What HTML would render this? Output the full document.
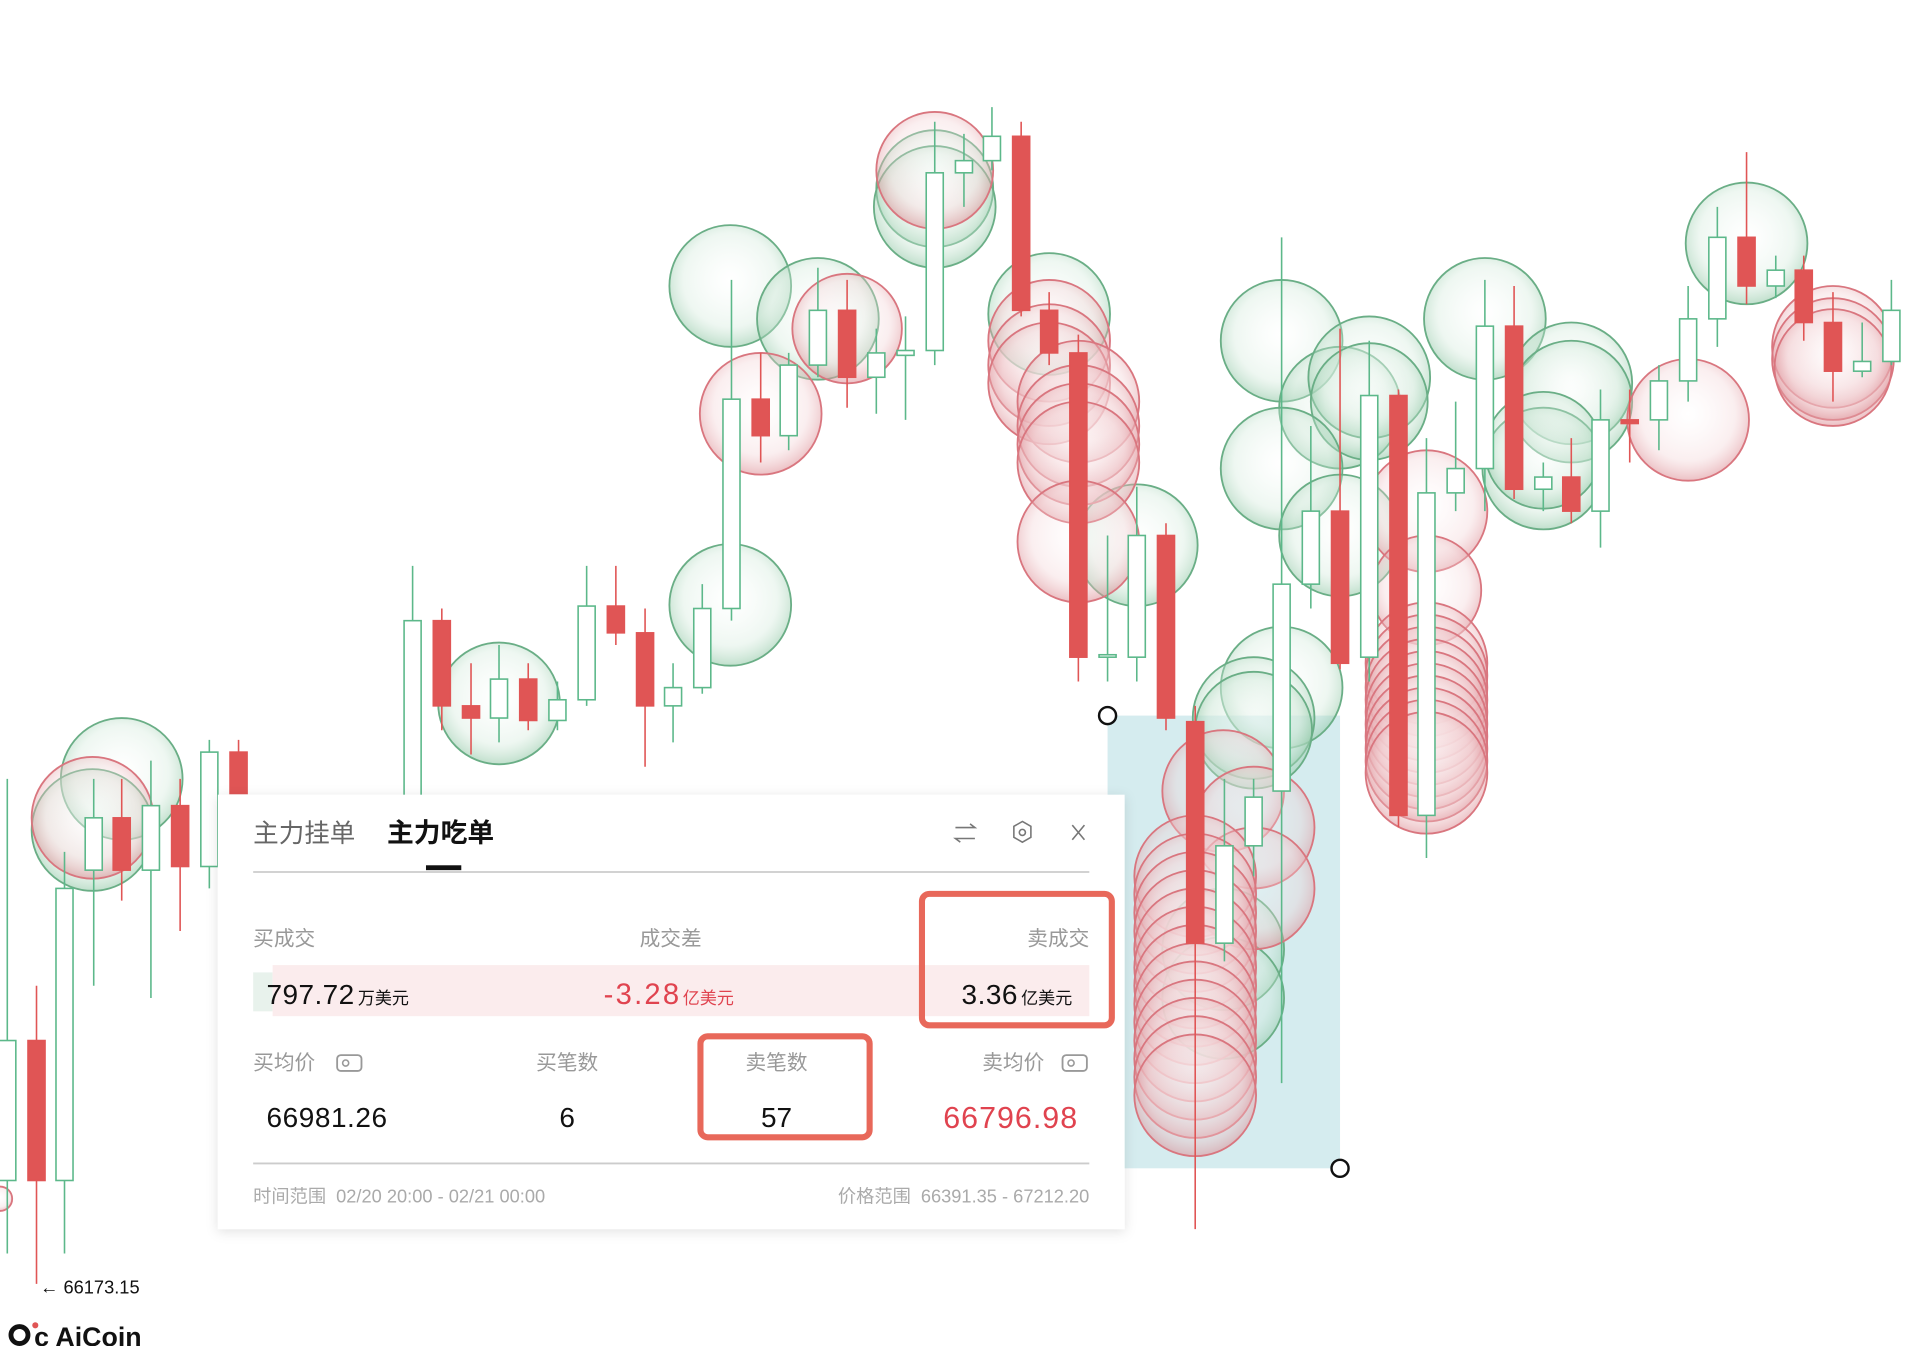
<!DOCTYPE html>
<html><head><meta charset="utf-8"><style>
html,body{margin:0;padding:0;background:#fff;overflow:hidden}
svg{display:block}
text{font-family:"Liberation Sans","Noto Sans CJK SC",sans-serif}
</style></head><body>
<svg width="1906" height="1346" viewBox="0 0 1566 1106" preserveAspectRatio="none" xmlns="http://www.w3.org/2000/svg">
<defs>
<radialGradient id="gg" cx="50%" cy="45%" r="55%"><stop offset="0" stop-color="#ffffff" stop-opacity="0.2"/><stop offset="0.7" stop-color="#cfe8d8" stop-opacity="0.35"/><stop offset="1" stop-color="#8cc5a2" stop-opacity="0.55"/></radialGradient>
<radialGradient id="rg" cx="50%" cy="45%" r="55%"><stop offset="0" stop-color="#ffffff" stop-opacity="0.2"/><stop offset="0.7" stop-color="#f2d0d3" stop-opacity="0.35"/><stop offset="1" stop-color="#dc8c93" stop-opacity="0.55"/></radialGradient>
<filter id="sh" x="-5%" y="-5%" width="110%" height="115%"><feDropShadow dx="0" dy="2" stdDeviation="5" flood-color="#000" flood-opacity="0.12"/></filter>
</defs>
<rect x="910" y="588" width="191" height="372" fill="#d5ecef"/>
<g stroke-width="1.5">
<g fill="url(#gg)" stroke="#6aae86">
<circle cx="100" cy="640" r="50"/><circle cx="76" cy="682" r="50"/>
<circle cx="410" cy="578" r="50"/><circle cx="600" cy="497" r="50"/><circle cx="600" cy="235" r="50"/><circle cx="672" cy="262" r="50"/>
<circle cx="768" cy="155" r="48"/><circle cx="768" cy="170" r="50"/>
<circle cx="862" cy="258" r="50"/><circle cx="934" cy="448" r="50"/>
<circle cx="1053" cy="280" r="50"/><circle cx="1101" cy="335" r="50"/><circle cx="1125" cy="310" r="50"/><circle cx="1125" cy="330" r="48"/>
<circle cx="1053" cy="385" r="50"/><circle cx="1101" cy="440" r="50"/><circle cx="1053" cy="565" r="50"/><circle cx="1030" cy="590" r="50"/><circle cx="1030" cy="600" r="48"/>
<circle cx="1220" cy="262" r="50"/><circle cx="1291" cy="315" r="50"/><circle cx="1291" cy="330" r="50"/><circle cx="1268" cy="385" r="50"/><circle cx="1268" cy="370" r="48"/>
<circle cx="1435" cy="200" r="50"/><circle cx="1005" cy="780" r="50"/><circle cx="1005" cy="820" r="50"/>
</g>
<g fill="url(#rg)" stroke="#d9767f">
<circle cx="76" cy="672" r="50"/><circle cx="0" cy="985" r="10"/>
<circle cx="625" cy="340" r="50"/><circle cx="696" cy="270" r="45"/><circle cx="768" cy="140" r="48"/>
<circle cx="862" cy="280" r="50"/><circle cx="862" cy="300" r="50"/><circle cx="862" cy="315" r="50"/>
<circle cx="886" cy="330" r="50"/><circle cx="886" cy="350" r="50"/><circle cx="886" cy="365" r="50"/><circle cx="886" cy="380" r="50"/><circle cx="886" cy="445" r="50"/>
<circle cx="1172" cy="420" r="50"/><circle cx="1172" cy="485" r="45"/>
<circle cx="1172" cy="545" r="50"/><circle cx="1172" cy="555" r="50"/><circle cx="1172" cy="565" r="50"/><circle cx="1172" cy="575" r="50"/><circle cx="1172" cy="585" r="50"/><circle cx="1172" cy="595" r="50"/><circle cx="1172" cy="605" r="50"/><circle cx="1172" cy="615" r="50"/><circle cx="1172" cy="625" r="50"/><circle cx="1172" cy="635" r="50"/>
<circle cx="1005" cy="650" r="50"/><circle cx="1030" cy="680" r="50"/><circle cx="1030" cy="730" r="50"/>
<circle cx="982" cy="720" r="50"/><circle cx="982" cy="735" r="50"/><circle cx="982" cy="750" r="50"/><circle cx="982" cy="765" r="50"/><circle cx="982" cy="780" r="50"/><circle cx="982" cy="795" r="50"/><circle cx="982" cy="810" r="50"/><circle cx="982" cy="825" r="50"/><circle cx="982" cy="840" r="50"/><circle cx="982" cy="855" r="50"/><circle cx="982" cy="870" r="50"/><circle cx="982" cy="885" r="50"/><circle cx="982" cy="900" r="50"/>
<circle cx="1387" cy="345" r="50"/>
<circle cx="1506" cy="285" r="50"/><circle cx="1506" cy="295" r="50"/><circle cx="1506" cy="302" r="48"/>
</g>
</g>
<g stroke="#5cb88a" stroke-width="1.3" fill="#fff">
<path d="M6 640V1030M53 700V1030M77 640V810M124 625V820M172 608V730M339 465V660M410 530V610M458 560V600M482 465V580M553 545V610M577 480V570M601 230V510M648 290V370M672 220V310M720 270V340M744 260V345M768 100V300M792 110V170M815 88V140M910 440V560M934 400V560M1006 640V790M1030 640V720M1053 195V890M1077 350V500M1125 280V560M1172 360V705M1196 330V420M1220 230V420M1268 380V420M1315 320V450M1363 300V370M1387 235V330M1411 170V285M1459 210V245M1530 265V310M1554 230V300"/>
<rect x="-1" y="855" width="14" height="115"/><rect x="46" y="730" width="14" height="240"/><rect x="70" y="672" width="14" height="43"/><rect x="117" y="662" width="14" height="53"/><rect x="165" y="618" width="14" height="94"/>
<rect x="332" y="510" width="14" height="150"/><rect x="403" y="558" width="14" height="32"/><rect x="451" y="575" width="14" height="17"/><rect x="475" y="498" width="14" height="77"/><rect x="546" y="565" width="14" height="15"/><rect x="570" y="500" width="14" height="65"/><rect x="594" y="328" width="14" height="172"/>
<rect x="641" y="300" width="14" height="58"/><rect x="665" y="255" width="14" height="45"/><rect x="713" y="290" width="14" height="20"/><rect x="737" y="288" width="14" height="4"/><rect x="761" y="142" width="14" height="146"/><rect x="785" y="132" width="14" height="10"/><rect x="808" y="112" width="14" height="20"/>
<rect x="903" y="538" width="14" height="2"/><rect x="927" y="440" width="14" height="100"/><rect x="999" y="695" width="14" height="80"/><rect x="1023" y="655" width="14" height="40"/><rect x="1046" y="480" width="14" height="170"/><rect x="1070" y="420" width="14" height="60"/><rect x="1118" y="325" width="14" height="215"/><rect x="1165" y="405" width="14" height="265"/><rect x="1189" y="385" width="14" height="20"/><rect x="1213" y="268" width="14" height="117"/><rect x="1261" y="392" width="14" height="10"/><rect x="1308" y="345" width="14" height="75"/><rect x="1356" y="313" width="14" height="32"/><rect x="1380" y="262" width="14" height="51"/><rect x="1404" y="195" width="14" height="67"/><rect x="1452" y="222" width="14" height="13"/><rect x="1523" y="297" width="14" height="8"/><rect x="1547" y="255" width="14" height="42"/>
</g>
<g stroke="#e05555" stroke-width="1.3" fill="#e05555">
<path d="M30 810V1055M100 640V740M148 640V765M196 608V650M363 500V600M387 545V620M434 545V600M506 465V530M530 500V630M625 290V380M696 230V335M839 100V260M862 240V300M886 275V560M958 430V600M982 580V1010M1101 270V550M1149 320V680M1244 235V410M1291 360V430M1339 320V380M1435 125V250M1482 210V280M1506 240V330"/>
<rect x="23" y="855" width="14" height="115"/><rect x="93" y="672" width="14" height="43"/><rect x="141" y="662" width="14" height="50"/><rect x="189" y="618" width="14" height="34"/>
<rect x="356" y="510" width="14" height="70"/><rect x="380" y="580" width="14" height="10"/><rect x="427" y="558" width="14" height="34"/><rect x="499" y="498" width="14" height="22"/><rect x="523" y="520" width="14" height="60"/><rect x="618" y="328" width="14" height="30"/><rect x="689" y="255" width="14" height="55"/>
<rect x="832" y="112" width="14" height="143"/><rect x="855" y="255" width="14" height="35"/><rect x="879" y="290" width="14" height="250"/><rect x="951" y="440" width="14" height="150"/><rect x="975" y="593" width="14" height="182"/><rect x="1094" y="420" width="14" height="125"/><rect x="1142" y="325" width="14" height="345"/><rect x="1237" y="268" width="14" height="134"/><rect x="1284" y="392" width="14" height="28"/><rect x="1332" y="345" width="14" height="3"/><rect x="1428" y="195" width="14" height="40"/><rect x="1475" y="222" width="14" height="43"/><rect x="1499" y="265" width="14" height="40"/>
</g>
<circle cx="910" cy="588" r="7" fill="#fff" stroke="#111" stroke-width="2"/>
<circle cx="1101" cy="960" r="7" fill="#fff" stroke="#111" stroke-width="2"/>
<rect x="179" y="653" width="745" height="357" fill="#fff" filter="url(#sh)"/>
<text x="208" y="692" font-size="21" fill="#666">主力挂单</text>
<text x="318" y="692" font-size="22" fill="#111" font-weight="bold">主力吃单</text>
<rect x="350" y="711" width="29" height="4" fill="#111"/>
<line x1="208" y1="716.5" x2="895" y2="716.5" stroke="#ccc" stroke-width="1.5"/>
<g stroke="#777" stroke-width="1.3" fill="none">
<path d="M785 680h16l-4-3M801 689h-16l4 3"/>
<path d="M840 675l7 4v9l-7 4l-7-4v-9z"/><circle cx="840" cy="684" r="2.5"/>
<path d="M881 678l10 12M891 678l-10 12"/>
</g>
<text x="208" y="777" font-size="17" fill="#999">买成交</text>
<text x="551" y="777" font-size="17" fill="#999" text-anchor="middle">成交差</text>
<text x="895" y="777" font-size="17" fill="#999" text-anchor="end">卖成交</text>
<rect x="208" y="799" width="16" height="32" fill="#e8f2ec"/>
<rect x="224" y="793" width="671" height="42" fill="#fbeced"/>
<text x="219" y="825" font-size="23" fill="#111" textLength="72">797.72</text><text x="294" y="825" font-size="14" fill="#111">万美元</text>
<text x="496" y="825" font-size="24" fill="#e0434f" textLength="62">-3.28</text><text x="561" y="825" font-size="14" fill="#e0434f">亿美元</text>
<text x="790" y="825" font-size="23" fill="#111" textLength="46">3.36</text><text x="839" y="825" font-size="14" fill="#111">亿美元</text>
<rect x="757.5" y="734.5" width="156" height="108" rx="6" fill="none" stroke="#e8685a" stroke-width="5"/>
<text x="208" y="879" font-size="17" fill="#999">买均价</text>
<rect x="277" y="867" width="20" height="13" rx="3" fill="none" stroke="#999" stroke-width="1.5"/><circle cx="284" cy="873.5" r="2.5" fill="none" stroke="#999" stroke-width="1.3"/>
<text x="466" y="879" font-size="17" fill="#999" text-anchor="middle">买笔数</text>
<text x="638" y="879" font-size="17" fill="#999" text-anchor="middle">卖笔数</text>
<text x="858" y="879" font-size="17" fill="#999" text-anchor="end">卖均价</text>
<rect x="873" y="867" width="20" height="13" rx="3" fill="none" stroke="#999" stroke-width="1.5"/><circle cx="880" cy="873.5" r="2.5" fill="none" stroke="#999" stroke-width="1.3"/>
<text x="219" y="926" font-size="23" fill="#111" textLength="99">66981.26</text>
<text x="466" y="926" font-size="23" fill="#111" text-anchor="middle">6</text>
<text x="638" y="926" font-size="23" fill="#111" text-anchor="middle">57</text>
<text x="775" y="927" font-size="25" fill="#e0434f" textLength="110">66796.98</text>
<rect x="575.5" y="851.5" width="139" height="83" rx="6" fill="none" stroke="#e8685a" stroke-width="5"/>
<line x1="208" y1="956" x2="895" y2="956" stroke="#ccc" stroke-width="1.5"/>
<text x="208" y="988" font-size="15" fill="#aaa">时间范围 <tspan dx="4">02/20 20:00 - 02/21 00:00</tspan></text>
<text x="895" y="988" font-size="15" fill="#aaa" text-anchor="end">价格范围 <tspan dx="4">66391.35 - 67212.20</tspan></text>
<text x="33" y="1063" font-size="15" fill="#111">← 66173.15</text>
<circle cx="16" cy="1097" r="7" fill="none" stroke="#111" stroke-width="4"/><circle cx="29" cy="1089" r="2.5" fill="#e05555"/>
<text x="28" y="1106" font-size="22" font-weight="bold" fill="#111">c AiCoin</text>
</svg>
</body></html>
